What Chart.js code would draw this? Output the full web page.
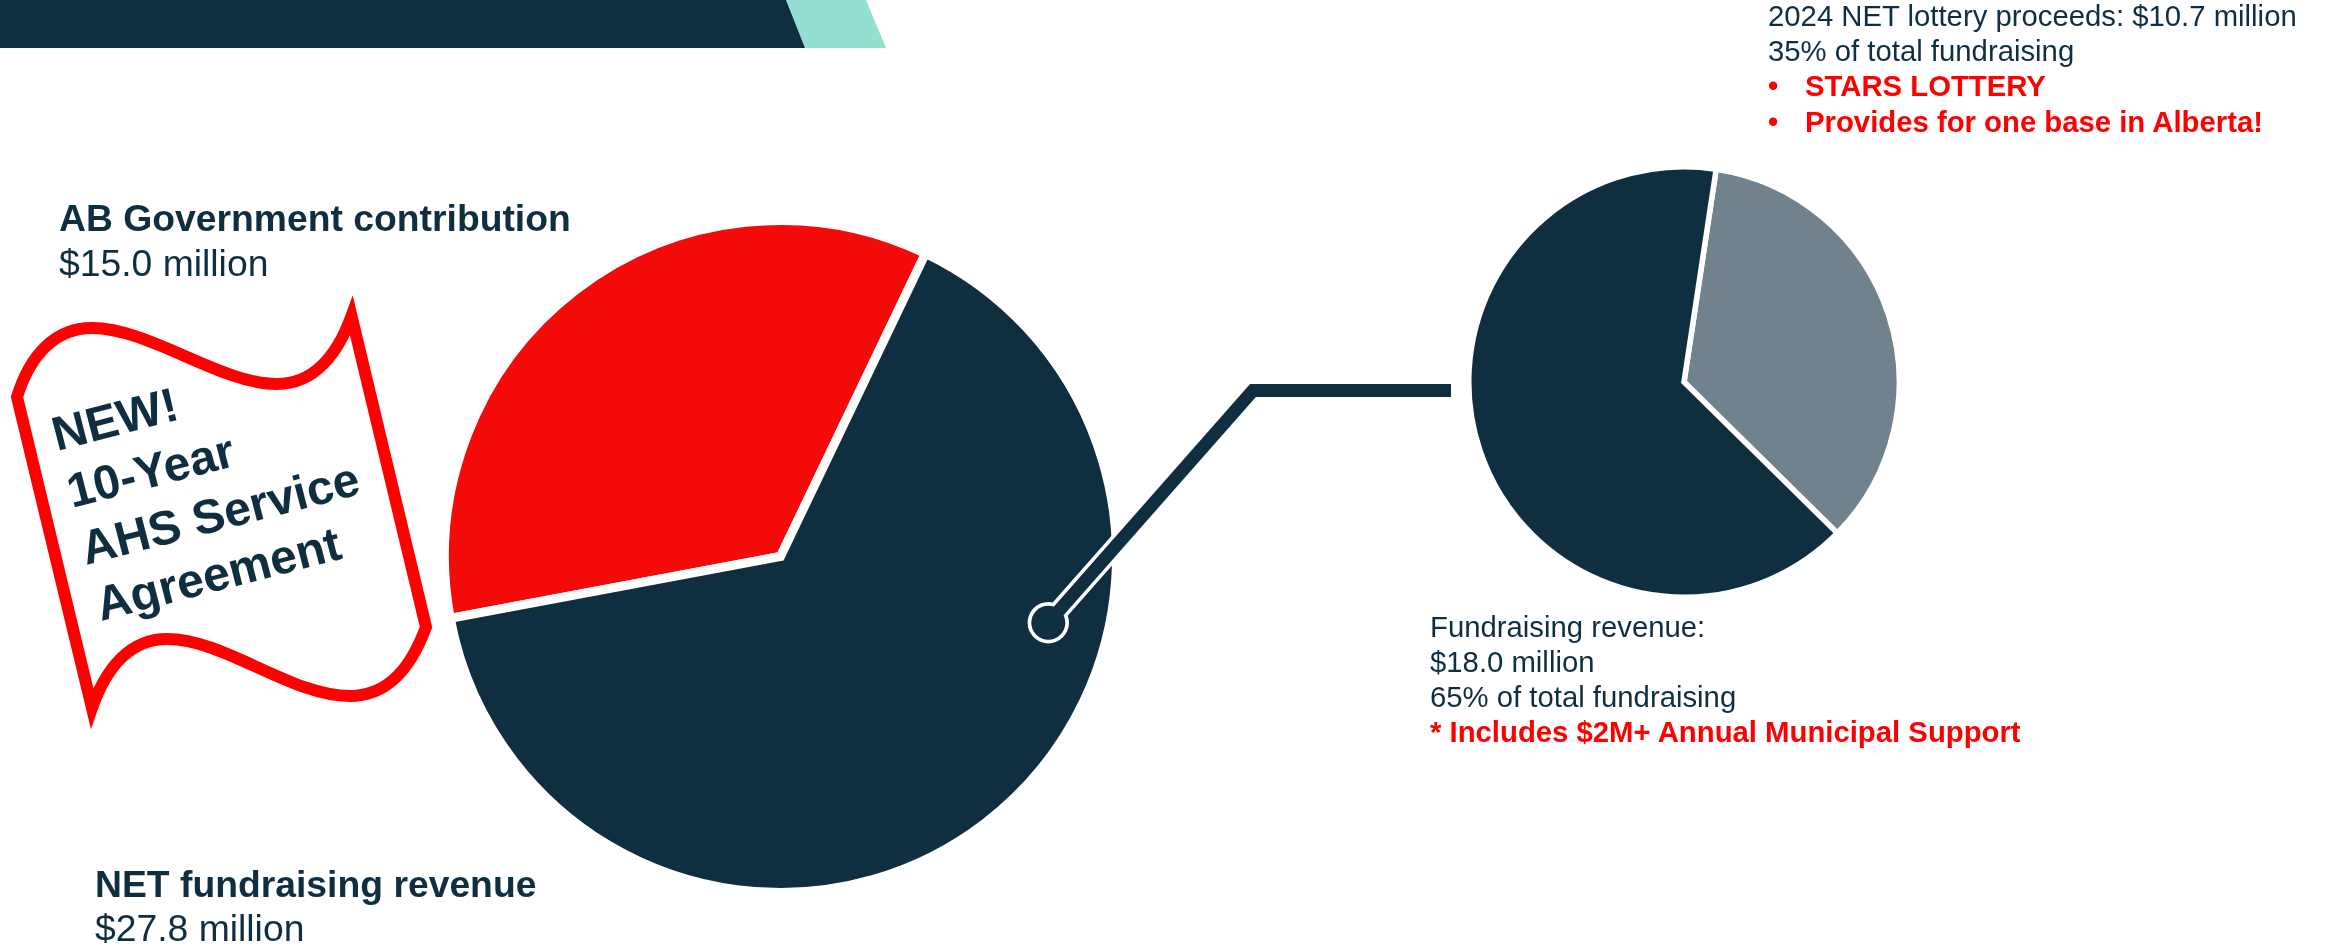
<!DOCTYPE html>
<html>
<head>
<meta charset="utf-8">
<script src="https://cdn.jsdelivr.net/npm/chart.js@4"></script>
<style>
html,body{margin:0;padding:0;background:#fff;width:2326px;height:947px;overflow:hidden}
canvas{position:absolute;display:block}
svg{position:absolute;left:0;top:0}
text{font-family:"Liberation Sans",Arial,sans-serif}
</style>
</head>
<body>
<canvas id="mainPie" width="681" height="681" style="left:440px;top:216px;width:681px;height:681px"></canvas>
<canvas id="detailPie" width="436" height="436" style="left:1466px;top:164px;width:436px;height:436px"></canvas>
<svg id="overlay" width="2326" height="947" viewBox="0 0 2326 947" xmlns="http://www.w3.org/2000/svg"></svg>
<script>
const mainLabels = ["AB Government contribution", "NET fundraising revenue"];
const mainValues = [15.0, 27.8];
const detailLabels = ["2024 NET lottery proceeds", "Fundraising revenue"];
const detailValues = [35, 65];

const DARK = "#0F2E40", RED = "#F40B09", GRAY = "#6F828E", TEAL = "#93E0D1", PURE = "#FF0000";

function pie(id, labels, values, colors, rotation, border) {
  return new Chart(document.getElementById(id), {
    type: "pie",
    data: { labels, datasets: [{ data: values, backgroundColor: colors, borderColor: "#FFFFFF", borderWidth: border, borderJoinStyle: "miter" }] },
    options: {
      responsive: false, animation: false, devicePixelRatio: 1, rotation,
      layout: { padding: 0 },
      plugins: { legend: { display: false }, tooltip: { enabled: false } }
    }
  });
}
pie("mainPie", mainLabels, mainValues, [RED, DARK], 259.4, 9);
pie("detailPie", detailLabels, detailValues, [GRAY, DARK], 8.6, 5.5);

const svg = document.getElementById("overlay");
const NS = "http://www.w3.org/2000/svg";
function add(tag, attrs, txt) {
  const e = document.createElementNS(NS, tag);
  for (const k in attrs) e.setAttribute(k, attrs[k]);
  if (txt !== undefined) e.textContent = txt;
  svg.appendChild(e);
  return e;
}
// banner
add("polygon", { points: "786,0 866,0 886,48 805,48", fill: TEAL });
add("polygon", { points: "0,0 786,0 805,48 0,48", fill: DARK });
// connector
const conn = "1451,390.5 1253,390.5 1048.3,622.7";
add("polyline", { points: conn, fill: "none", stroke: "#fff", "stroke-width": 20, "stroke-linejoin": "miter" });
add("circle", { cx: 1048.3, cy: 622.7, r: 20.7, fill: "#fff" });
add("circle", { cx: 1048.3, cy: 622.7, r: 17, fill: DARK });
add("polyline", { points: conn, fill: "none", stroke: DARK, "stroke-width": 13, "stroke-linejoin": "miter" });
// flag
add("path", {
  d: "M17,397 C30,355 55,328 92,328 C150,328 220,384 277,384 C315,384 338,353 351.5,316 L426,627 C412,665 390,696 350,696 C290,696 225,639 167,639 C130,639 106,668 92,708 Z",
  fill: "#fff", stroke: PURE, "stroke-width": 12, "stroke-linejoin": "miter", "stroke-miterlimit": 12
});
const flagLines = [["NEW!", 57, 451], ["10-Year", 72, 508], ["AHS Service", 86, 565], ["Agreement", 101, 621]];
flagLines.forEach(([t, x, y]) => add("text", { x, y, "font-size": 48, "font-weight": "bold", fill: DARK, transform: `rotate(-14.5 ${x} ${y})` }, t));
// captions
const captions = [
  ["AB Government contribution", 59, 231, 37.3, "bold", DARK],
  ["$15.0 million", 59, 276, 37.3, "normal", DARK],
  ["NET fundraising revenue", 95, 897, 37.3, "bold", DARK],
  ["$27.8 million", 95, 941, 37.3, "normal", DARK],
  ["2024 NET lottery proceeds: $10.7 million", 1768, 26, 29.3, "normal", DARK],
  ["35% of total fundraising", 1768, 61, 29.3, "normal", DARK],
  ["•", 1768, 96, 29.3, "bold", PURE],
  ["STARS LOTTERY", 1805, 96, 29.3, "bold", PURE],
  ["•", 1768, 131.5, 29.3, "bold", PURE],
  ["Provides for one base in Alberta!", 1805, 131.5, 29.3, "bold", PURE],
  ["Fundraising revenue:", 1430, 637, 29.3, "normal", DARK],
  ["$18.0 million", 1430, 672, 29.3, "normal", DARK],
  ["65% of total fundraising", 1430, 707, 29.3, "normal", DARK],
  ["* Includes $2M+ Annual Municipal Support", 1430, 742, 29.3, "bold", PURE]
];
captions.forEach(([t, x, y, s, w, c]) => add("text", { x, y, "font-size": s, "font-weight": w, fill: c }, t));
</script>
</body>
</html>
